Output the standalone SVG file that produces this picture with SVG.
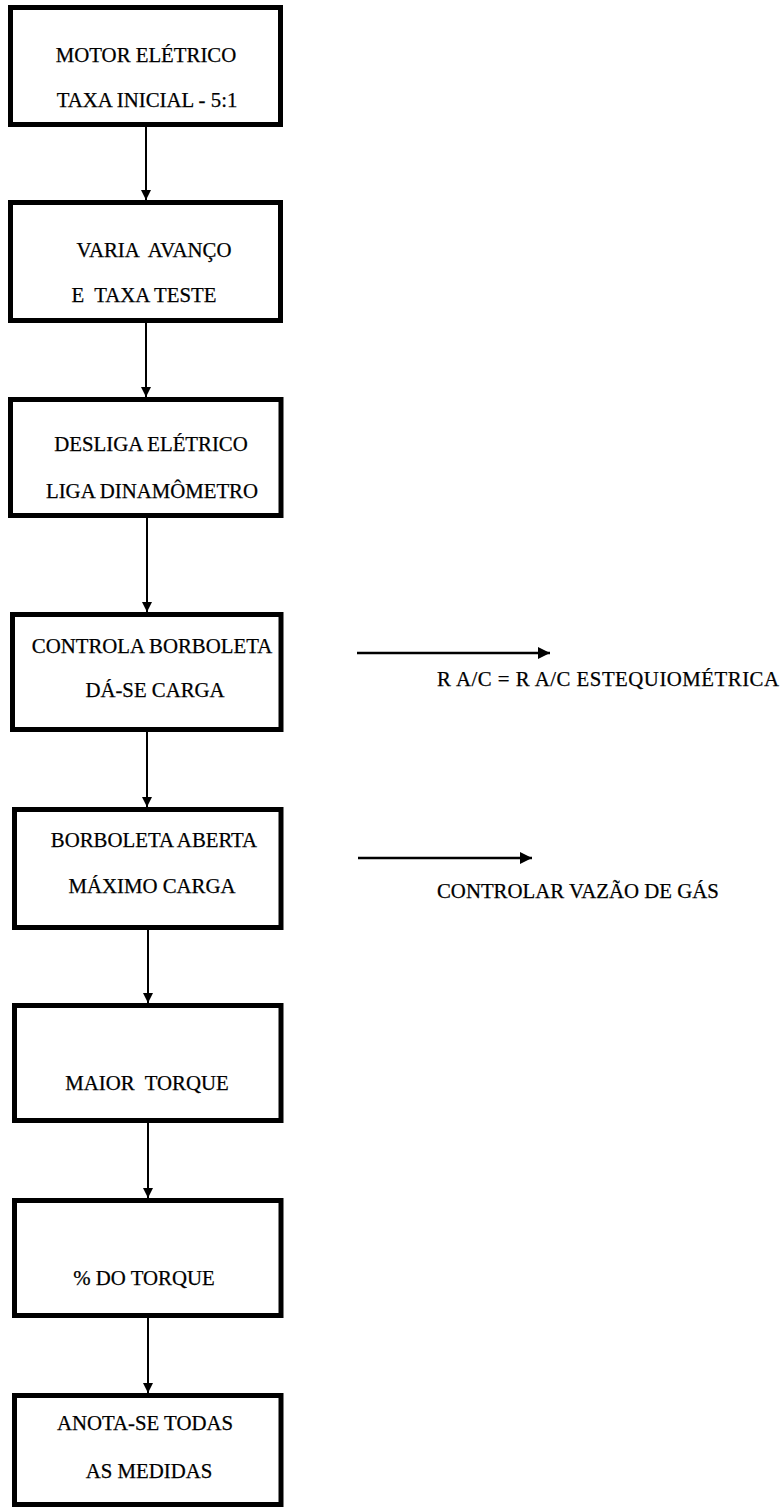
<svg xmlns="http://www.w3.org/2000/svg" width="784" height="1508" viewBox="0 0 784 1508">
  <defs>
    <style>
      .box { fill: #ffffff; stroke: #000000; stroke-width: 5; }
      .lbl { font-family: "Liberation Serif", "Times New Roman", serif; font-size: 20.8px; fill: #000000; stroke: #000000; stroke-width: 0.25; }
      .mid { text-anchor: middle; }
      .flow { stroke: #000000; stroke-width: 2; fill: none; }
      .side { stroke: #000000; stroke-width: 2.5; fill: none; }
    </style>
    <marker id="headDown" markerUnits="userSpaceOnUse" markerWidth="12" markerHeight="10" refX="10" refY="5" orient="auto">
      <path d="M0,0 L10,5 L0,10 Z" fill="#000000"/>
    </marker>
    <marker id="headSide" markerUnits="userSpaceOnUse" markerWidth="14" markerHeight="14" refX="12" refY="6" orient="auto">
      <path d="M0,0 L12,6 L0,12 Z" fill="#000000"/>
    </marker>
  </defs>
  <rect width="784" height="1508" fill="#ffffff"/>

  <!-- connectors -->
  <g id="connectors">
    <line class="flow" x1="146" y1="127" x2="146" y2="200" marker-end="url(#headDown)"/>
    <line class="flow" x1="146" y1="323" x2="146" y2="397" marker-end="url(#headDown)"/>
    <line class="flow" x1="147" y1="518" x2="147" y2="612" marker-end="url(#headDown)"/>
    <line class="flow" x1="147" y1="732" x2="147" y2="807" marker-end="url(#headDown)"/>
    <line class="flow" x1="148" y1="930" x2="148" y2="1003" marker-end="url(#headDown)"/>
    <line class="flow" x1="148" y1="1123" x2="148" y2="1198" marker-end="url(#headDown)"/>
    <line class="flow" x1="148" y1="1318" x2="148" y2="1393" marker-end="url(#headDown)"/>
    <line class="side" x1="357" y1="653" x2="550" y2="653" marker-end="url(#headSide)"/>
    <line class="side" x1="358" y1="858" x2="532" y2="858" marker-end="url(#headSide)"/>
  </g>

  <!-- process steps -->
  <g id="step-motor">
    <rect class="box" x="10.5" y="7.5" width="270" height="117"/>
    <text class="lbl mid" x="146" y="62">MOTOR ELÉTRICO</text>
    <text class="lbl mid" x="147" y="107">TAXA INICIAL - 5:1</text>
  </g>
  <g id="step-avanco">
    <rect class="box" x="10.5" y="202.5" width="270" height="118"/>
    <text class="lbl mid" x="154" y="257" xml:space="preserve">VARIA  AVANÇO</text>
    <text class="lbl mid" x="144" y="302" xml:space="preserve">E  TAXA TESTE</text>
  </g>
  <g id="step-dinamometro">
    <rect class="box" x="10.5" y="399.5" width="270.5" height="116"/>
    <text class="lbl mid" x="151" y="451">DESLIGA ELÉTRICO</text>
    <text class="lbl mid" x="152" y="498">LIGA DINAMÔMETRO</text>
  </g>
  <g id="step-borboleta">
    <rect class="box" x="12.5" y="614.5" width="268.5" height="115"/>
    <text class="lbl mid" x="152" y="653">CONTROLA BORBOLETA</text>
    <text class="lbl mid" x="155" y="697">DÁ-SE CARGA</text>
  </g>
  <g id="step-aberta">
    <rect class="box" x="14.5" y="809.5" width="266.5" height="118"/>
    <text class="lbl mid" x="154" y="847">BORBOLETA ABERTA</text>
    <text class="lbl mid" x="152" y="893">MÁXIMO CARGA</text>
  </g>
  <g id="step-maior-torque">
    <rect class="box" x="14.5" y="1005.5" width="266.5" height="115"/>
    <text class="lbl mid" x="147" y="1090" xml:space="preserve">MAIOR  TORQUE</text>
  </g>
  <g id="step-pct-torque">
    <rect class="box" x="14.5" y="1200.5" width="266.5" height="115"/>
    <text class="lbl mid" x="144" y="1285">% DO TORQUE</text>
  </g>
  <g id="step-anota">
    <rect class="box" x="14.5" y="1395.5" width="266.5" height="109"/>
    <text class="lbl mid" x="145" y="1430">ANOTA-SE TODAS</text>
    <text class="lbl mid" x="149" y="1478">AS MEDIDAS</text>
  </g>

  <!-- side notes -->
  <g id="note-razao">
    <text class="lbl" x="437" y="686" textLength="342" lengthAdjust="spacing">R A/C = R A/C ESTEQUIOMÉTRICA</text>
  </g>
  <g id="note-vazao">
    <text class="lbl" x="437" y="898">CONTROLAR VAZÃO DE GÁS</text>
  </g>
</svg>
